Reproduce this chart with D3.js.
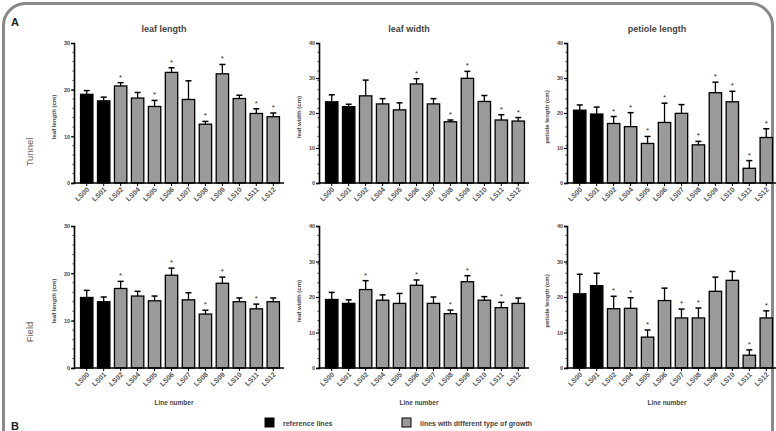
<!DOCTYPE html>
<head>
<meta charset="utf-8">
<script src="https://d3js.org/d3.v7.min.js"></script>
<style>
    body { margin: 0; background: #fff; }
    text { font-family: "Liberation Sans", Arial, sans-serif; }
</style>
</head>
<body>
<div id="container"></div>
<script>
    // line numbers on the x axis, the first two are the reference lines
    var lines = ["LS00","LS01","LS02","LS04","LS05","LS06","LS07","LS08","LS09","LS10","LS11","LS12"];
    var refLines = ["LS00","LS01"];

    // Tunnel
    var tunnelLeafLength    = [19.0, 17.6, 20.8, 18.2, 16.4, 23.7, 17.9, 12.6, 23.4, 18.1, 14.9, 14.2];
    var tunnelLeafLengthErr = [0.8, 0.8, 0.7, 1.2, 1.3, 1.0, 4.0, 0.6, 2.0, 0.7, 1.0, 0.8];
    var tunnelLeafLengthSig = [0, 0, 1, 0, 1, 1, 0, 1, 1, 0, 1, 1];
    var tunnelLeafWidth     = [23.2, 21.8, 24.9, 22.6, 20.9, 28.3, 22.6, 17.5, 29.9, 23.3, 18.0, 17.7];
    var tunnelLeafWidthErr  = [2.0, 0.7, 4.5, 1.5, 2.0, 1.5, 1.5, 0.5, 2.0, 1.7, 1.5, 1.0];
    var tunnelLeafWidthSig  = [0, 0, 0, 0, 0, 1, 0, 1, 1, 0, 1, 1];
    var tunnelPetiole       = [20.8, 19.7, 17.0, 16.1, 11.3, 17.3, 19.9, 10.9, 25.8, 23.2, 4.2, 13.0];
    var tunnelPetioleErr    = [1.5, 2.0, 2.0, 4.0, 2.0, 5.5, 2.5, 1.0, 3.0, 3.0, 2.2, 2.5];
    var tunnelPetioleSig    = [0, 0, 1, 1, 1, 1, 0, 1, 1, 1, 1, 1];

    // Field
    var fieldLeafLength     = [14.9, 14.0, 16.8, 15.2, 14.2, 19.6, 14.4, 11.4, 17.9, 14.0, 12.5, 14.0];
    var fieldLeafLengthErr  = [1.5, 1.0, 1.5, 1.0, 1.0, 1.5, 1.5, 0.8, 1.3, 0.8, 1.0, 0.8];
    var fieldLeafLengthSig  = [0, 0, 1, 0, 0, 1, 0, 1, 1, 0, 1, 0];
    var fieldLeafWidth      = [19.3, 18.2, 22.1, 19.1, 18.2, 23.3, 18.2, 15.3, 24.3, 19.1, 17.0, 18.2];
    var fieldLeafWidthErr   = [2.0, 1.0, 2.5, 1.5, 2.8, 1.5, 1.8, 1.0, 1.7, 1.0, 1.5, 1.5];
    var fieldLeafWidthSig   = [0, 0, 1, 0, 0, 1, 0, 1, 1, 0, 1, 0];
    var fieldPetiole        = [20.9, 23.2, 16.7, 16.8, 8.7, 19.0, 14.1, 14.1, 21.6, 24.7, 3.6, 14.1];
    var fieldPetioleErr     = [5.5, 3.5, 3.5, 3.0, 2.0, 3.5, 2.5, 2.8, 4.0, 2.5, 1.5, 2.0];
    var fieldPetioleSig     = [0, 0, 1, 1, 1, 0, 1, 1, 0, 0, 1, 1];

    var colTitles = ["leaf length", "leaf width", "petiole length"];
    var yTitles = ["leaf length (cm)", "leaf width (cm)", "petiole length (cm)"];
    var yMax = [30, 40, 40];
    var yTicks = [[0,10,20,30], [0,10,20,30,40], [0,10,20,30,40]];
    var rowNames = ["Tunnel", "Field"];

    var svg = d3.select("#container").append("svg").attr("width", 776).attr("height", 431);

    // outer frame (runs off the bottom like in the figure)
    svg.append("rect").attr("x", 3.5).attr("y", 3.5).attr("width", 769).attr("height", 470)
        .attr("rx", 22).attr("fill", "none").attr("stroke", "#888").attr("stroke-width", 3);

    svg.append("text").text("A").attr("x", 11).attr("y", 26).attr("font-size", 11).attr("font-weight", "bold").attr("fill", "#222");
    svg.append("text").text("B").attr("x", 11).attr("y", 430).attr("font-size", 11).attr("font-weight", "bold").attr("fill", "#222");

    var colX = [74, 319, 567];   // y-axis position of each column
    var rowY = [[43, 183], [226, 368]];  // top / bottom of each row
    var panels = [
        [tunnelLeafLength, tunnelLeafLengthErr, tunnelLeafLengthSig],
        [tunnelLeafWidth, tunnelLeafWidthErr, tunnelLeafWidthSig],
        [tunnelPetiole, tunnelPetioleErr, tunnelPetioleSig],
        [fieldLeafLength, fieldLeafLengthErr, fieldLeafLengthSig],
        [fieldLeafWidth, fieldLeafWidthErr, fieldLeafWidthSig],
        [fieldPetiole, fieldPetioleErr, fieldPetioleSig]
    ];

    function drawPanel(row, col){
        var vals = panels[row*3+col][0], errs = panels[row*3+col][1], sig = panels[row*3+col][2];
        var x0 = colX[col];
        var top = rowY[row][0], bottom = rowY[row][1];
        var g = svg.append("g");

        var x = d3.scaleBand().domain(lines).range([x0 + 4, x0 + 208]).paddingInner(0.27).paddingOuter(0.15);
        var y = d3.scaleLinear().domain([0, yMax[col]]).range([bottom, top]);

        // bars
        g.selectAll("rect.bar").data(lines).enter().append("rect")
            .attr("x", d => x(d)).attr("width", x.bandwidth())
            .attr("y", (d,i) => y(vals[i])).attr("height", (d,i) => bottom - y(vals[i]))
            .attr("fill", d => refLines.indexOf(d) >= 0 ? "#000" : "#9a9a9a")
            .attr("stroke", "#000").attr("stroke-width", 1.3);

        // error bars (upper half only)
        var eb = g.selectAll("g.err").data(lines).enter().append("g");
        eb.append("line")
            .attr("x1", d => x(d) + x.bandwidth()/2).attr("x2", d => x(d) + x.bandwidth()/2)
            .attr("y1", (d,i) => y(vals[i])).attr("y2", (d,i) => y(vals[i] + errs[i]))
            .attr("stroke", "#000").attr("stroke-width", 1.3);
        eb.append("line")
            .attr("x1", d => x(d) + x.bandwidth()/2 - 3).attr("x2", d => x(d) + x.bandwidth()/2 + 3)
            .attr("y1", (d,i) => y(vals[i] + errs[i])).attr("y2", (d,i) => y(vals[i] + errs[i]))
            .attr("stroke", "#000").attr("stroke-width", 1.5);

        // asterisks
        g.selectAll("text.sig").data(lines.filter((d,i) => sig[i])).enter().append("text")
            .text("*")
            .attr("x", d => x(d) + x.bandwidth()/2)
            .attr("y", d => { var i = lines.indexOf(d); return y(vals[i] + errs[i]) - 3; })
            .attr("text-anchor", "middle").attr("font-size", 8).attr("fill", "#333");

        // y axis
        var yAxis = d3.axisLeft(y).tickValues(yTicks[col]).tickSize(3).tickPadding(1);
        var ya = g.append("g").attr("transform", "translate(" + x0 + ",0)").call(yAxis);
        ya.select(".domain").attr("stroke-width", 1.6);
        ya.selectAll(".tick line").attr("stroke-width", 1.2);
        ya.selectAll("text").attr("font-size", 5.5).attr("font-weight", "bold").attr("fill", "#444");
        // minor ticks
        var minor = d3.range(0, yMax[col], yMax[col] / 15);
        g.selectAll("line.minor").data(minor).enter().append("line")
            .attr("x1", x0 - 1.5).attr("x2", x0).attr("y1", d => y(d)).attr("y2", d => y(d))
            .attr("stroke", "#000").attr("stroke-width", 0.8);

        // x axis
        g.append("line").attr("x1", x0).attr("x2", x0 + 210).attr("y1", bottom).attr("y2", bottom)
            .attr("stroke", "#000").attr("stroke-width", 1.6);
        g.selectAll("line.xt").data(lines).enter().append("line")
            .attr("x1", d => x(d) + x.bandwidth()/2).attr("x2", d => x(d) + x.bandwidth()/2)
            .attr("y1", bottom).attr("y2", bottom + 3)
            .attr("stroke", "#000").attr("stroke-width", 1);
        g.selectAll("text.xl").data(lines).enter().append("text")
            .text(d => d)
            .attr("x", d => x(d) + x.bandwidth()/2 + 3).attr("y", bottom + 7)
            .attr("transform", d => "rotate(-45," + (x(d) + x.bandwidth()/2 + 3) + "," + (bottom + 7) + ")")
            .attr("text-anchor", "end").attr("font-size", 7).attr("font-weight", "bold").attr("fill", "#555");

        // y title
        g.append("text").text(yTitles[col])
            .attr("transform", "translate(" + (x0 - 18) + "," + ((top + bottom)/2 + 4) + ") rotate(-90)")
            .attr("text-anchor", "middle").attr("font-size", 6).attr("font-weight", "bold").attr("fill", "#444");

        if(row == 0){
            g.append("text").text(colTitles[col]).attr("x", x0 + 90).attr("y", 32)
                .attr("text-anchor", "middle").attr("font-size", 9).attr("font-weight", "bold").attr("fill", "#444");
        } else {
            g.append("text").text("Line number").attr("x", x0 + 100).attr("y", 405)
                .attr("text-anchor", "middle").attr("font-size", 6.5).attr("font-weight", "bold").attr("fill", "#444");
        }
    }

    for (var r = 0; r < 2; r++) {
        for (var c = 0; c < 3; c++) drawPanel(r, c);
        svg.append("text").text(rowNames[r])
            .attr("transform", "translate(33," + (r == 0 ? 152 : 332) + ") rotate(-90)")
            .attr("text-anchor", "middle").attr("font-size", 9.5).attr("fill", "#6b5f55");
    }

    // legend
    var legend = [
        {label: "reference lines", fill: "#000", x: 265},
        {label: "lines with different type of growth", fill: "#9a9a9a", x: 402}
    ];
    var lg = svg.selectAll("g.legend").data(legend).enter().append("g")
        .attr("transform", d => "translate(" + d.x + ",418)");
    lg.append("rect").attr("width", 9).attr("height", 9).attr("fill", d => d.fill)
        .attr("stroke", "#000").attr("stroke-width", 1);
    lg.append("text").text(d => d.label).attr("x", 18).attr("y", 8)
        .attr("font-size", 7).attr("font-weight", "bold").attr("fill", "#444");
</script>
</body>
